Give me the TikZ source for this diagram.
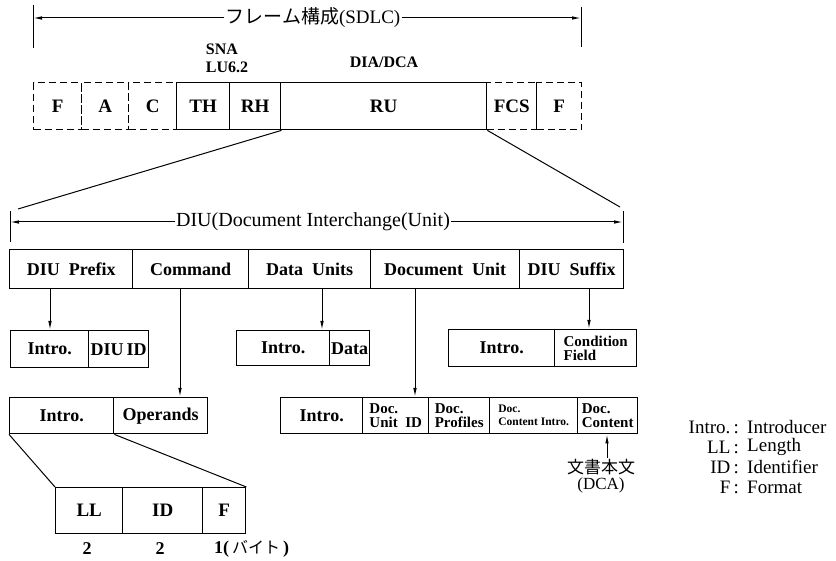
\documentclass[tikz,border=0pt]{standalone}
\usepackage{fontspec}
\setmainfont{Liberation Serif}
\newfontfamily\cjk{Noto Sans CJK JP}
\usetikzlibrary{arrows.meta}
\begin{document}
\begin{tikzpicture}[x=1pt,y=-1pt,
  fbox/.style={draw, line width=1.4pt, anchor=north west, inner sep=0pt, align=center, font=\bfseries\fontsize{18}{18}\selectfont},
  tbox/.style={fbox, font=\bfseries\fontsize{19}{19}\selectfont},
  dbox/.style={tbox, dash pattern=on 7pt off 4pt},
  sbox/.style={fbox, align=left, font=\bfseries\fontsize{15}{14}\selectfont},
  xbox/.style={fbox, align=left, font=\bfseries\fontsize{11.5}{13}\selectfont},
  conn/.style={line width=1pt},
  arr/.style={conn, -{Latex[length=9pt,width=3.5pt]}},
  lab/.style={inner sep=1pt, font=\fontsize{20}{20}\selectfont},
  leg/.style={inner sep=0pt, font=\fontsize{19}{19}\selectfont}
]
\useasboundingbox (0,0) rectangle (836,561);

% ---------- frame row ----------
\node[dbox, minimum width=48pt, minimum height=47pt] (f1) at (33,82) {F};
\node[dbox, minimum width=47pt, minimum height=47pt] (a) at (81,82) {A};
\node[dbox, minimum width=48pt, minimum height=47pt] (c) at (128,82) {C};
\node[dbox, minimum width=50pt, minimum height=47pt] (fcs) at (486,82) {FCS};
\node[dbox, minimum width=45pt, minimum height=47pt] (f2) at (536,82) {F};
\node[tbox, minimum width=53pt, minimum height=47pt] (th) at (176,82) {TH};
\node[tbox, minimum width=51pt, minimum height=47pt] (rh) at (229,82) {RH};
\node[tbox, minimum width=206pt, minimum height=47pt] (ru) at (280,82) {RU};

\node[lab, align=left, font=\bfseries\fontsize{16}{18}\selectfont] (sna) at (227,58) {SNA\\LU6.2};
\node[lab, font=\bfseries\fontsize{16}{16}\selectfont] (dia) at (384,62) {DIA/DCA};

% top dimension
\coordinate (tla) at (33,5);
\coordinate (tlb) at (33,48);
\coordinate (tra) at (581,7);
\coordinate (trb) at (581,47);
\coordinate (tl) at (33,18);
\coordinate (tr) at (581,18);
\draw[conn] (tla) -- (tlb);
\draw[conn] (tra) -- (trb);
\node[lab, font=\fontsize{19}{19}\selectfont] (sdlc) at (313,18) {{\cjk フレーム構成}(SDLC)};
\draw[arr] (sdlc.west) -- (tl);
\draw[arr] (sdlc.east) -- (tr);

% expansion lines
\coordinate (dl) at (18,209);
\coordinate (dr) at (620,207);
\draw[conn] (rh.south east) -- (dl);
\draw[conn] (ru.south east) -- (dr);

% DIU dimension
\coordinate (ula) at (10,211);
\coordinate (ulb) at (10,242);
\coordinate (ura) at (623,211);
\coordinate (urb) at (623,243);
\coordinate (ul) at (10,222);
\coordinate (ur) at (623,222);
\draw[conn] (ula) -- (ulb);
\draw[conn] (ura) -- (urb);
\node[lab] (diu) at (313,222) {DIU(Document Interchange(Unit)};
\draw[arr] (diu.west) -- (ul);
\draw[arr] (diu.east) -- (ur);

% ---------- DIU row ----------
\node[fbox, minimum width=123pt, minimum height=39pt] (dp) at (9,249) {DIU\ \ Prefix};
\node[fbox, minimum width=116pt, minimum height=39pt] (cmd) at (132,249) {Command};
\node[fbox, minimum width=122pt, minimum height=39pt] (du) at (248,249) {Data\ \ Units};
\node[fbox, minimum width=149pt, minimum height=39pt] (docu) at (370,249) {Document\ \ Unit};
\node[fbox, minimum width=104pt, minimum height=39pt] (ds) at (519,249) {DIU\ \ Suffix};

% ---------- second row ----------
\node[fbox, minimum width=78pt, minimum height=37pt] (ia) at (10,330) {Intro.};
\node[fbox, minimum width=60pt, minimum height=37pt] (did) at (88,330) {DIU\,ID};
\node[fbox, minimum width=93pt, minimum height=35pt] (ib) at (236,330) {Intro.};
\node[fbox, minimum width=40pt, minimum height=35pt] (data) at (329,330) {Data};
\node[fbox, minimum width=106pt, minimum height=37pt] (ic) at (448,329) {Intro.};
\node[sbox, minimum width=82pt, minimum height=37pt] (cf) at (554,329) {Condition\\Field};

% ---------- third row ----------
\node[fbox, minimum width=104pt, minimum height=36pt] (id) at (9,397) {Intro.};
\node[fbox, minimum width=94pt, minimum height=36pt] (op) at (113,397) {Operands};
\node[fbox, minimum width=82pt, minimum height=36pt] (ie) at (280,397) {Intro.};
\node[sbox, minimum width=66pt, minimum height=36pt] (duid) at (362,397) {Doc.\\Unit\ \ ID};
\node[sbox, minimum width=61pt, minimum height=36pt] (dprof) at (428,397) {Doc.\\Profiles};
\node[xbox, minimum width=88pt, minimum height=36pt] (dci) at (489,397) {Doc.\\Content Intro.};
\node[sbox, minimum width=60pt, minimum height=36pt] (dc) at (577,397) {Doc.\\Content};

% ---------- LL / ID / F ----------
\node[tbox, minimum width=67pt, minimum height=46pt] (ll) at (55,487) {LL};
\node[tbox, minimum width=80pt, minimum height=46pt] (idf) at (122,487) {ID};
\node[tbox, minimum width=43pt, minimum height=46pt] (ff) at (202,487) {F};
\draw[conn] (id.south west) -- (ll.north west);
\draw[conn] (id.south east) -- (ff.north east);

\node[lab, font=\bfseries\fontsize{18}{18}\selectfont] (n1) at (87,549) {2};
\node[lab, font=\bfseries\fontsize{18}{18}\selectfont] (n2) at (160,549) {2};
\node[lab, anchor=west, font=\bfseries\fontsize{18}{18}\selectfont] (n3) at (213,549) {1(\,{\mdseries\cjk\fontsize{16}{16}\selectfont バイト}\,)};

% ---------- arrows ----------
\coordinate (xa) at (50,0);
\coordinate (xb) at (180,0);
\coordinate (xc) at (322,0);
\coordinate (xd) at (415,0);
\coordinate (xe) at (589,0);
\draw[arr] (dp.south -| xa) -- (ia.north -| xa);
\draw[arr] (cmd.south -| xb) -- (op.north -| xb);
\draw[arr] (du.south -| xc) -- (ib.north -| xc);
\draw[arr] (docu.south -| xd) -- (duid.north -| xd);
\draw[arr] (ds.south -| xe) -- (cf.north -| xe);

% DCA text
\node[lab, align=center, font=\fontsize{17}{16}\selectfont] (dca) at (601,476) {{\cjk 文書本文}\\(DCA)};
\coordinate (xf) at (607,0);
\draw[arr] (dca.north -| xf) -- (dc.south -| xf);

% ---------- legend ----------
\node[leg, anchor=east] (l1) at (739,427) {Intro.\,:};
\node[leg, anchor=west] (l1t) at (747,427) {Introducer};
\node[leg, anchor=east] (l2) at (739,447) {LL\,:};
\node[leg, anchor=west] (l2t) at (747,447) {Length};
\node[leg, anchor=east] (l3) at (739,467) {ID\,:};
\node[leg, anchor=west] (l3t) at (747,467) {Identifier};
\node[leg, anchor=east] (l4) at (739,487) {F\,:};
\node[leg, anchor=west] (l4t) at (747,487) {Format};
\end{tikzpicture}
\end{document}
